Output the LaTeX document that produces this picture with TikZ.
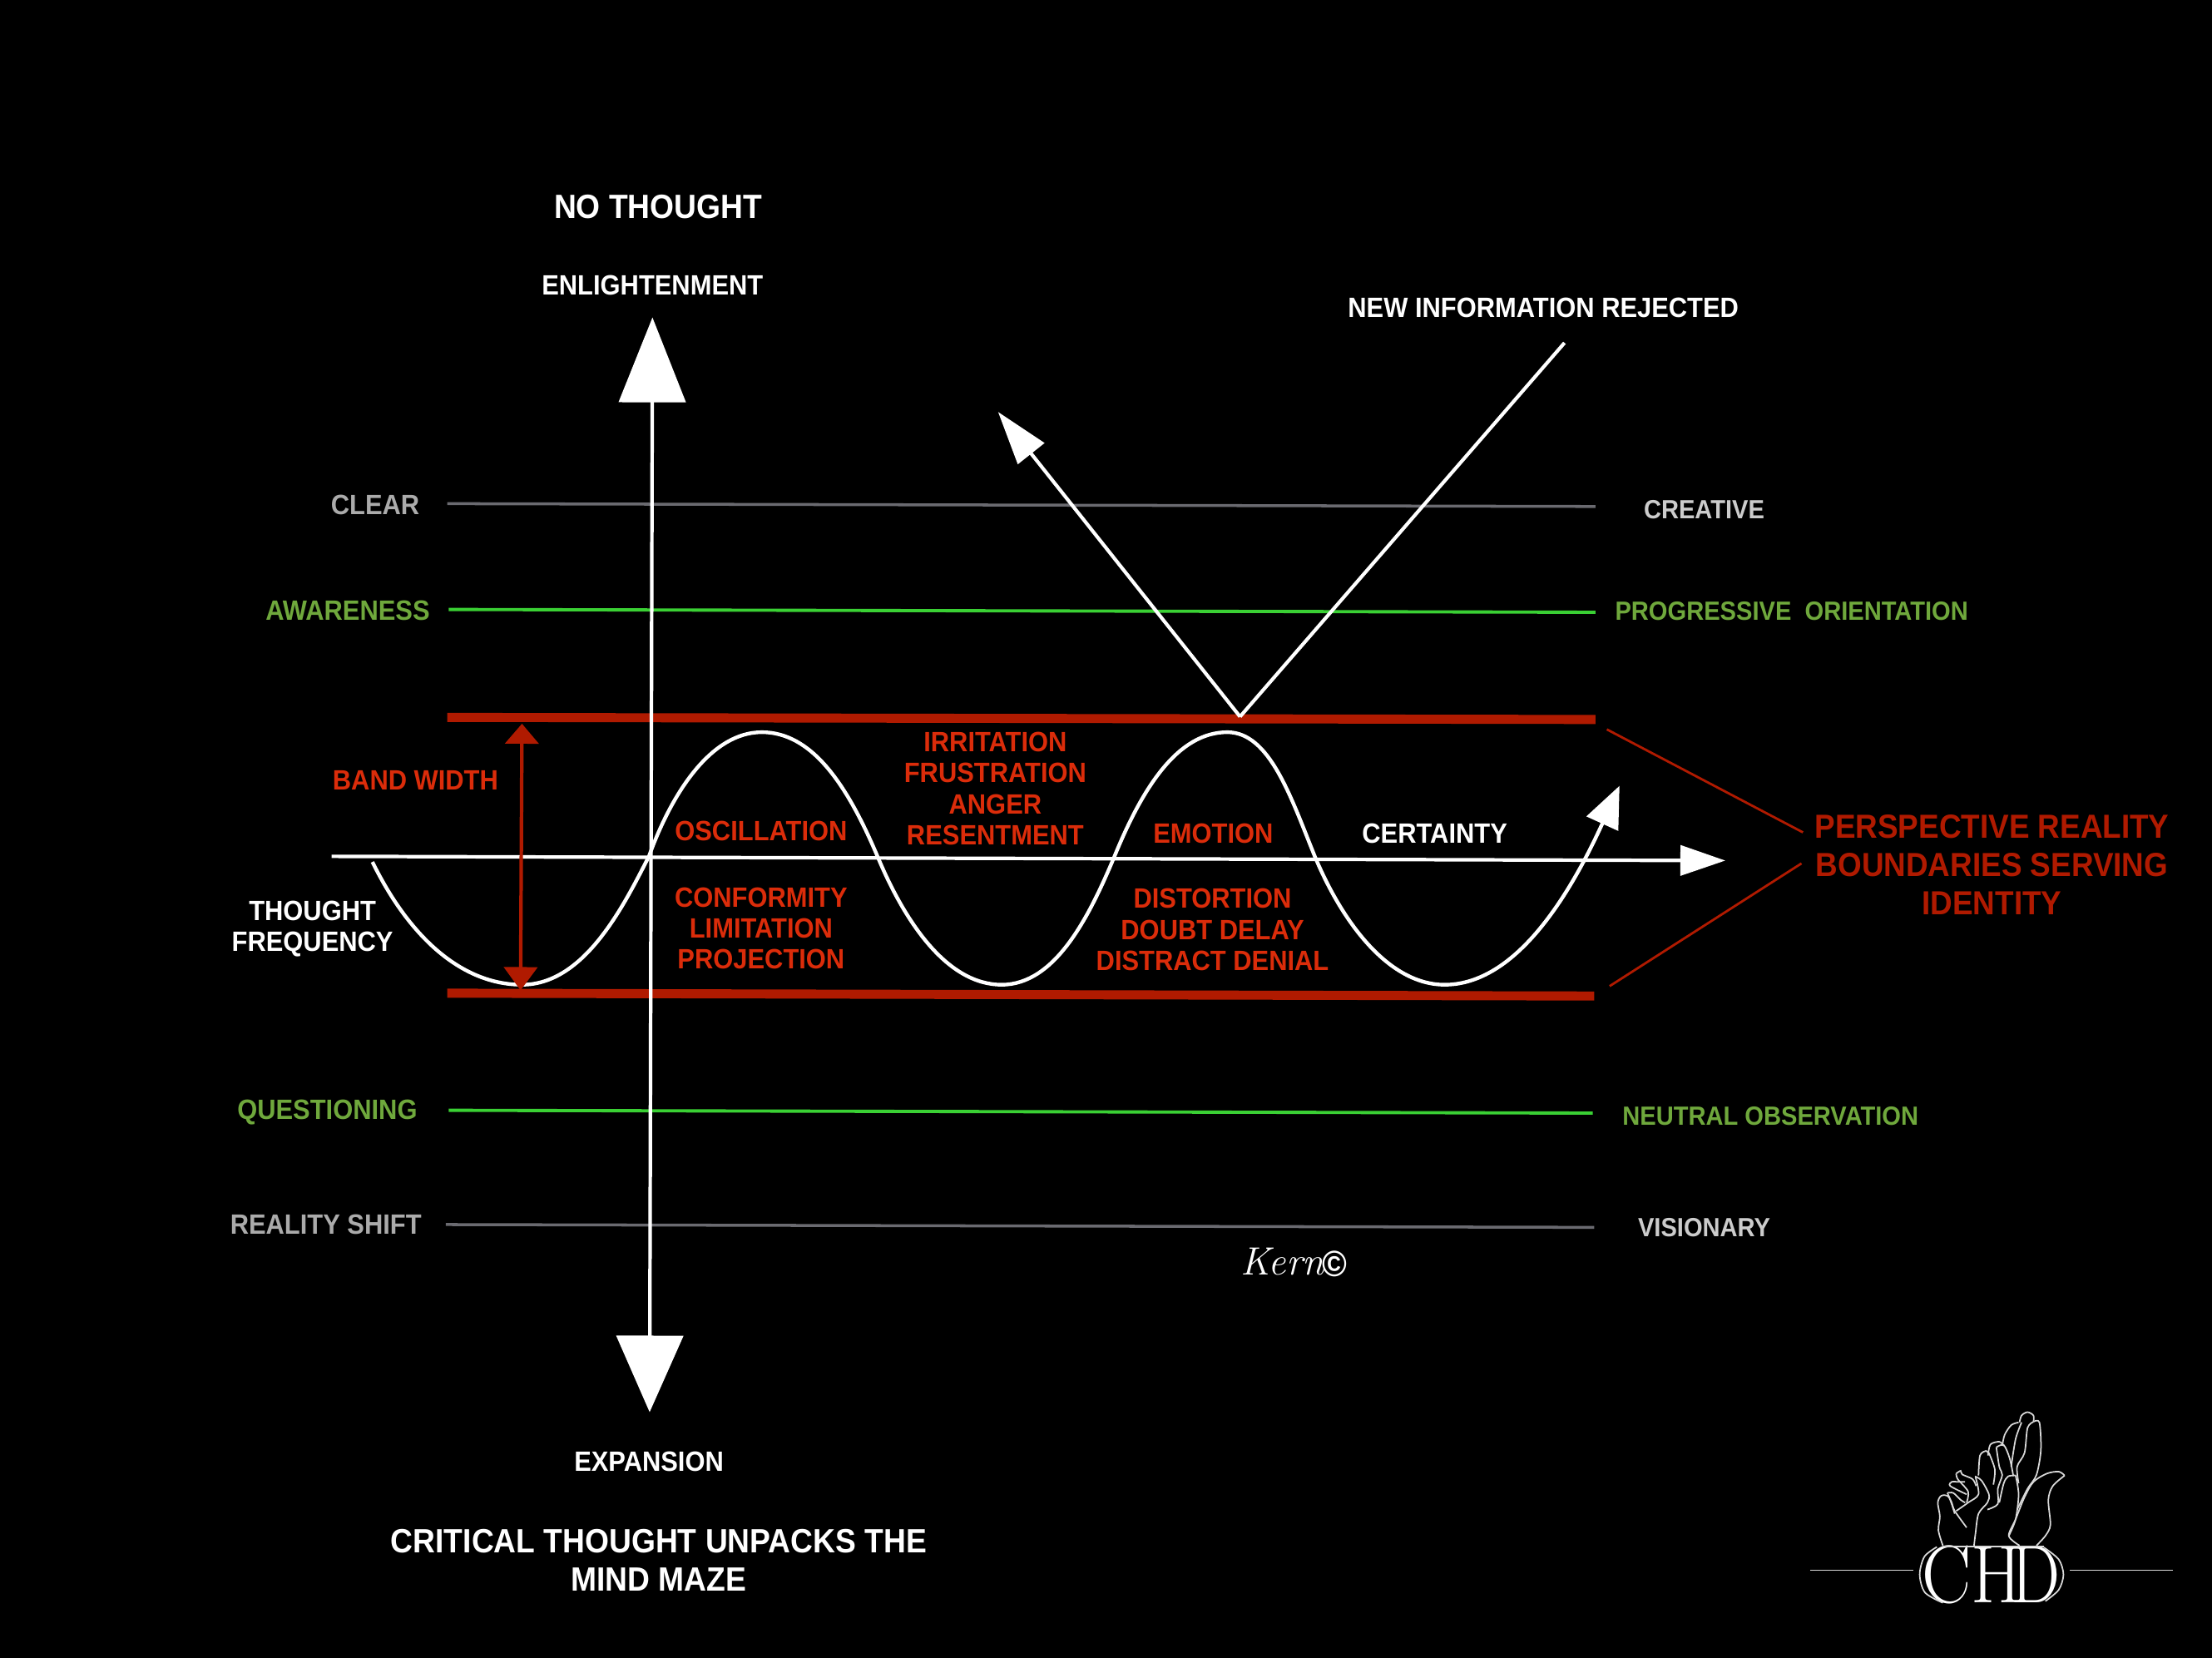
\documentclass[tikz,border=0pt]{standalone}
\usepackage{fontspec}
\setsansfont[FakeStretch=0.92]{Liberation Sans}
\usetikzlibrary{arrows.meta}
\definecolor{bandred}{HTML}{B01A00}
\definecolor{textred}{HTML}{DB2C0A}
\definecolor{linegreen}{HTML}{3AD034}
\definecolor{textgreen}{HTML}{6FA83C}
\definecolor{linegrey}{HTML}{6A6A70}
\definecolor{textgrey}{HTML}{ABABAB}
\begin{document}
\begin{tikzpicture}[
  x=0.016958cm,y=-0.016958cm,
  axis/.style={draw=white,line width=1.2pt},
  wave/.style={draw=white,line width=1.25pt},
  band/.style={draw=bandred,line width=3.1pt},
  thin red/.style={draw=bandred,line width=0.8pt},
  level green/.style={draw=linegreen,line width=1.1pt},
  level grey/.style={draw=linegrey,line width=1pt},
  logoline/.style={draw=white!85!black,line width=0.5pt},
  label/.style={font=\sffamily\bfseries\fontsize{9.55}{10.6}\selectfont,text=white,align=center,inner sep=0pt},
  rightlabel/.style={label,font=\sffamily\bfseries\fontsize{9}{10.6}\selectfont},
  big/.style={label,font=\sffamily\bfseries\fontsize{11.5}{13}\selectfont},
  redlabel/.style={label,text=textred},
  greenlabel/.style={label,text=textgreen},
  greylabel/.style={label,text=textgrey},
  logotext/.style={label,font=\rmfamily\fontsize{28}{28}\selectfont,transform shape},
]
\fill[black] (0,0) rectangle (1568,1175);
% levels
\coordinate (clearL) at (317,357);
\coordinate (clearR) at (1131,359);
\coordinate (awareL) at (318,432);
\coordinate (awareR) at (1131,434);
\coordinate (bandTL) at (317,508.5);
\coordinate (bandTR) at (1131,510);
\coordinate (bandBL) at (317,704);
\coordinate (bandBR) at (1130,706);
\coordinate (questL) at (318,787);
\coordinate (questR) at (1129,789);
\coordinate (shiftL) at (316,868);
\coordinate (shiftR) at (1130,870);
\draw[level grey] (clearL)--(clearR);
\draw[level green] (awareL)--(awareR);
\draw[band] (bandTL)--(bandTR);
\draw[band] (bandBL)--(bandBR);
\draw[level green] (questL)--(questR);
\draw[level grey] (shiftL)--(shiftR);
% axes
\coordinate (axisTop) at (462.5,225);
\coordinate (axisBot) at (460.5,1001);
\coordinate (axisMid) at (461.5,607);
\coordinate (freqL) at (235,607);
\coordinate (freqR) at (1223,610);
\draw[axis,-{Triangle[length=10.2mm,width=8mm]}] (axisMid)--(axisTop);
\draw[axis,-{Triangle[length=9.2mm,width=8mm]}] (axisMid)--(axisBot);
\draw[axis,-{Triangle[length=5.4mm,width=3.6mm]}] (freqL)--(freqR);
% wave
\coordinate (waveStart) at (264,611);
\coordinate (waveEnd) at (1148,557);
\draw[wave,-{Triangle[length=5mm,width=4.1mm]}] (waveStart)
  .. controls (292,668) and (330,698) .. (370,698)
  .. controls (415,698) and (443,640) .. (460,607)
  .. controls (477,560) and (505,519) .. (540,519)
  .. controls (575,519) and (600,555) .. (622,607)
  .. controls (642,655) and (672,698) .. (710,698)
  .. controls (748,698) and (772,650) .. (790,607)
  .. controls (810,558) and (835,519) .. (870,519)
  .. controls (900,519) and (915,565) .. (932,607)
  .. controls (952,655) and (985,698) .. (1024,698)
  .. controls (1070,698) and (1108,645) .. (waveEnd);
% rejected information
\coordinate (vertex) at (879,508);
\coordinate (rejectEnd) at (1109,243);
\coordinate (rejectTip) at (707.5,292);
\draw[axis] (vertex)--(rejectEnd);
\draw[axis,-{Triangle[length=6.4mm,width=4mm]}] (vertex)--(rejectTip);
% band width
\coordinate (widthTop) at (370,513);
\coordinate (widthBot) at (369,702);
\draw[draw=bandred,fill=bandred,line width=1.2pt,{Triangle[length=2.4mm,width=4mm]}-{Triangle[length=2.8mm,width=4mm]}] (widthTop)--(widthBot);
% pointers to the boundaries label
\coordinate (boundA) at (1139,517);
\coordinate (boundB) at (1278,590);
\coordinate (boundC) at (1141,699);
\coordinate (boundD) at (1277,612);
\draw[thin red] (boundA)--(boundB);
\draw[thin red] (boundC)--(boundD);
% labels
\node[big] (noThought) at (466.5,146.5) {NO THOUGHT};
\node[label] (enlight) at (462.5,202.5) {ENLIGHTENMENT};
\node[label] (rejected) at (1094,218) {NEW INFORMATION REJECTED};
\node[greylabel] (clear) at (266,358) {CLEAR};
\node[rightlabel,text=white!80!black] (creative) at (1208,361) {CREATIVE};
\node[greenlabel] (aware) at (246.5,432.5) {AWARENESS};
\node[rightlabel,text=textgreen] (progress) at (1270,433) {PROGRESSIVE\ \ ORIENTATION};
\node[redlabel] (bandwidth) at (294.5,553) {BAND WIDTH};
\node[redlabel] (irritation) at (705.5,559) {IRRITATION\\FRUSTRATION\\ANGER\\RESENTMENT};
\node[redlabel] (oscillation) at (539.5,589) {OSCILLATION};
\node[redlabel] (emotion) at (860,591) {EMOTION};
\node[label] (certainty) at (1017,591) {CERTAINTY};
\node[label] (frequency) at (221.5,658.5) {THOUGHT\\FREQUENCY};
\node[redlabel] (conformity) at (539.5,658) {CONFORMITY\\LIMITATION\\PROJECTION};
\node[redlabel] (distortion) at (859.5,659) {DISTORTION\\DOUBT DELAY\\DISTRACT DENIAL};
\node[big,text=bandred,font=\sffamily\bfseries\fontsize{11.4}{13}\selectfont] (perspective) at (1412,613) {PERSPECTIVE REALITY\\BOUNDARIES SERVING\\IDENTITY};
\node[greenlabel] (question) at (232,788.5) {QUESTIONING};
\node[rightlabel,text=textgreen] (neutral) at (1255,791) {NEUTRAL OBSERVATION};
\node[greylabel] (shift) at (231,868) {REALITY SHIFT};
\node[rightlabel,text=white!80!black] (visionary) at (1208,870) {VISIONARY};
\node[label] (expansion) at (460,1036) {EXPANSION};
\node[big] (critical) at (467,1106) {CRITICAL THOUGHT UNPACKS THE\\MIND MAZE};
\node[label,font=\rmfamily\itshape\fontsize{13.5}{14}\selectfont] (kern) at (909,894) {Kern};
\node[label,font=\sffamily\bfseries\fontsize{12.5}{13}\selectfont] (copyright) at (946,896) {©};
% logo
\begin{scope}[shift={(1238.2,972.9)},x=0.003565cm,y=-0.003333cm]
\coordinate (ruleA) at (213,714);
\coordinate (ruleB) at (560,714);
\coordinate (ruleC) at (1087,714);
\coordinate (ruleD) at (1433,714);
\draw[logoline] (ruleA)--(ruleB);
\draw[logoline] (ruleC)--(ruleD);
\node[logotext,xscale=.9] (logoC) at (672,730) {C};
\node[logotext,xscale=.9] (logoH) at (840,730) {H};
\node[logotext,xscale=.85] (logoD) at (972,730) {D};
\draw[logoline] plot[smooth] coordinates {(640,630) (598,665) (582,730) (600,795) (660,832)};
\draw[logoline] plot[smooth] coordinates {(1000,632) (1050,675) (1066,730) (1050,785) (1005,826)};
\draw[logoline] (660,628)--(1000,628);
% hands
\draw[logoline] plot[smooth] coordinates {(915,180) (890,190) (868,225) (860,265)};
\draw[logoline] plot[smooth] coordinates {(918,180) (925,155) (945,143) (965,155) (965,178)};
\draw[logoline] plot[smooth] coordinates {(965,178) (985,180) (990,280) (975,370) (945,420) (910,495)};
\draw[logoline] plot[smooth] coordinates {(965,178) (945,200) (935,290) (910,340) (915,400)};
\draw[logoline] plot[smooth] coordinates {(925,180) (905,240) (890,340)};
\draw[logoline] plot[smooth] coordinates {(1070,372) (1050,358) (1010,365) (965,395) (935,450) (905,530) (882,590) (918,625)};
\draw[logoline] plot[smooth] coordinates {(1070,372) (1030,410) (1015,460) (1022,550) (1005,590) (975,625)};
\draw[logoline] plot[smooth] coordinates {(780,372) (785,300) (805,283) (812,290)};
\draw[logoline] plot[smooth] coordinates {(812,300) (820,260) (850,250) (866,265)};
\draw[logoline] plot[smooth] coordinates {(830,405) (835,350) (815,290)};
\draw[logoline] plot[smooth] coordinates {(840,270) (865,262) (885,310) (897,372)};
\draw[logoline] plot[smooth] coordinates {(840,270) (850,340) (860,370) (845,420) (845,475) (810,495)};
\draw[logoline] plot[smooth] coordinates {(905,372) (880,375) (865,400) (850,470)};
\draw[logoline] plot[smooth] coordinates {(905,372) (915,440) (905,530) (882,590)};
\draw[logoline] plot[smooth] coordinates {(768,375) (790,390) (815,440) (810,470) (780,510) (770,580) (765,625)};
\draw[logoline] plot[smooth] coordinates {(705,500) (745,470) (780,440) (770,378)};
\draw[logoline] plot[smooth] coordinates {(705,365) (720,355) (725,368) (760,385) (772,410)};
\draw[logoline] plot[smooth] coordinates {(705,365) (710,385) (745,430) (740,470)};
\draw[logoline] plot[smooth] coordinates {(735,395) (710,395) (690,395) (685,410) (740,440)};
\draw[logoline] plot[smooth] coordinates {(675,435) (695,435) (720,460) (735,470)};
\draw[logoline] plot[smooth] coordinates {(675,435) (690,470) (700,500) (740,560)};
\draw[logoline] plot[smooth] coordinates {(700,510) (680,450) (655,445) (643,470) (650,520) (645,570) (660,625)};
\end{scope}
\end{tikzpicture}
\end{document}
